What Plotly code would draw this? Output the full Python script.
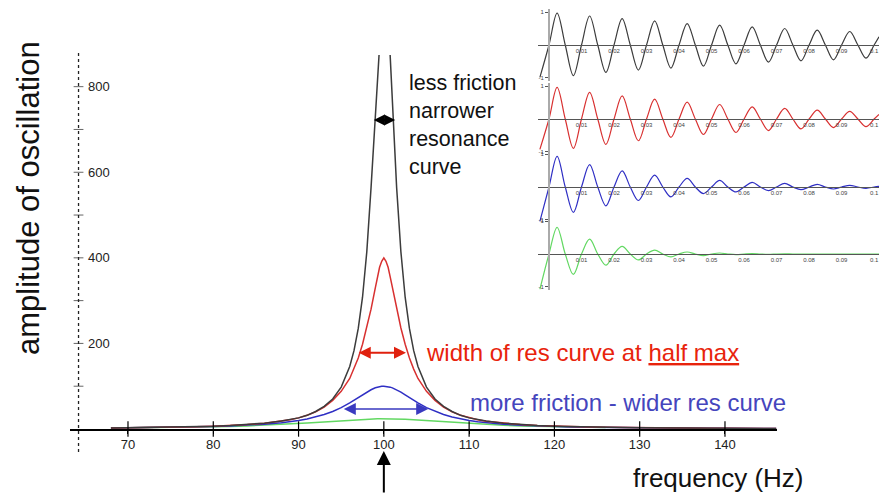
import plotly.graph_objects as go

W, H = 879, 494
FONT = "Liberation Sans, Arial, sans-serif"

# ---------------- main resonance curves ----------------
freq = [68, 70, 72, 74, 76, 78, 80, 82, 84, 86, 88, 89, 90, 91, 92, 93, 94, 95, 96,
        96.5, 97, 97.5, 98, 98.5, 99, 99.25, 99.5, 99.75, 100,
        100.25, 100.5, 100.75, 101, 101.5, 102, 102.5, 103, 103.5, 104,
        105, 106, 107, 108, 109, 110, 111, 112,
        114, 116, 118, 120, 122, 124, 126, 128, 130, 132,
        134, 136, 138, 140, 142, 144, 146]

amp_black = [2.6, 3.0, 3.5, 4.0, 4.7, 5.6, 6.7, 8.3, 10.5, 13.7, 18.5, 22, 26, 32, 41, 53, 70, 98, 146,
             183, 235, 308, 414, 564, 762, 869, 966, 1035, 1060,
             1035, 966, 869, 762, 564, 414, 308, 235, 183, 146,
             98, 70, 53, 41, 32, 26, 22, 18.5,
             13.7, 10.5, 8.3, 6.7, 5.6, 4.7, 4.0, 3.5, 3.0, 2.6,
             2.4, 2.1, 1.9, 1.7, 1.5, 1.4, 1.2]

amp_red = [2.6, 2.9, 3.4, 4.0, 4.6, 5.5, 6.6, 8.2, 10.3, 13.5, 18, 21.5, 26, 32, 40, 51, 67, 88, 118,
           140, 166, 198, 236, 280, 330, 355, 378, 392, 400,
           392, 378, 355, 330, 280, 236, 198, 166, 140, 118,
           88, 67, 51, 40, 32, 26, 21.5, 18,
           13.5, 10.3, 8.2, 6.6, 5.5, 4.6, 4.0, 3.4, 2.9, 2.6,
           2.3, 2.1, 1.9, 1.7, 1.5, 1.4, 1.2]

amp_blue = [2.4, 2.7, 3.1, 3.6, 4.2, 4.9, 5.9, 7.2, 8.9, 11.3, 14.8, 17.1, 20, 23.6, 28.1, 33.8, 41, 50, 61,
            67.1, 73.5, 80, 86.2, 91.7, 96.2, 97.8, 99, 99.8, 100,
            99.8, 99, 97.8, 96.2, 91.7, 86.2, 80, 73.5, 67.1, 61,
            50, 41, 33.8, 28.1, 23.6, 20, 17.1, 14.8,
            11.3, 8.9, 7.2, 5.9, 4.9, 4.2, 3.6, 3.1, 2.7, 2.4,
            2.1, 1.9, 1.7, 1.5, 1.4, 1.3, 1.2]

amp_green = [2.3, 2.6, 3.0, 3.4, 3.9, 4.4, 5.2, 6.1, 7.2, 8.6, 10.4, 11.4, 12.6, 13.8, 15.2, 16.6, 18.1, 19.6, 21,
             21.6, 22.2, 22.7, 23.2, 23.5, 23.8, 23.9, 24, 24, 24,
             24, 24, 23.9, 23.8, 23.5, 23.2, 22.7, 22.2, 21.6, 21,
             19.6, 18.1, 16.6, 15.2, 13.8, 12.6, 11.4, 10.4,
             8.6, 7.2, 6.1, 5.2, 4.4, 3.9, 3.4, None, None, None,
             None, None, None, None, None, None, None]

x_ticks = [70, 80, 90, 100, 110, 120, 130, 140]
y_ticks = [200, 400, 600, 800]
y_minor = [100, 200, 300, 400, 500, 600, 700, 800]

# ---------------- inset damped oscillations ----------------
t_inset = [-0.0028, 0.0, 0.0025, 0.005, 0.0075, 0.01, 0.0125, 0.015, 0.0175, 0.02,
           0.0225, 0.025, 0.0275, 0.03, 0.0325, 0.035, 0.0375, 0.04, 0.0425, 0.045,
           0.0475, 0.05, 0.0525, 0.055, 0.0575, 0.06, 0.0625, 0.065, 0.0675, 0.07,
           0.0725, 0.075, 0.0775, 0.08, 0.0825, 0.085, 0.0875, 0.09, 0.0925, 0.095,
           0.0975, 0.1, 0.1015]
osc_black = [-0.98, 0, 0.97, 0, -0.93, 0, 0.88, 0, -0.83, 0, 0.80, 0, -0.76, 0, 0.73, 0,
             -0.70, 0, 0.65, 0, -0.64, 0, 0.60, 0, -0.57, 0, 0.55, 0, -0.52, 0, 0.50, 0,
             -0.48, 0, 0.45, 0, -0.45, 0, 0.41, 0, -0.40, 0, 0.25]
osc_red = [-0.92, 0, 0.96, 0, -0.89, 0, 0.81, 0, -0.77, 0, 0.70, 0, -0.66, 0, 0.60, 0,
           -0.56, 0, 0.51, 0, -0.47, 0, 0.44, 0, -0.41, 0, 0.37, 0, -0.35, 0, 0.32, 0,
           -0.30, 0, 0.27, 0, -0.26, 0, 0.23, 0, -0.23, 0, 0.14]
osc_blue = [-1.04, 0, 0.93, 0, -0.77, 0, 0.68, 0, -0.57, 0, 0.49, 0, -0.41, 0, 0.36, 0,
            -0.30, 0, 0.26, 0, -0.20, 0, 0.20, 0, -0.15, 0, 0.14, 0, -0.11, 0, 0.11, 0,
            -0.08, 0, 0.08, 0, -0.06, 0, 0.05, 0, -0.04, 0, 0.02]
osc_green = [-1.07, 0, 0.81, 0, -0.62, 0, 0.45, 0, -0.34, 0, 0.23, 0, -0.18, 0, 0.12, 0,
             -0.09, 0, 0.06, 0, -0.05, 0, 0.03, 0, -0.02, 0, 0.015, 0, -0.01, 0, 0.005, 0,
             0, 0, 0, 0, 0, 0, 0, 0, 0, 0, 0]
t_ticks = [0.01, 0.02, 0.03, 0.04, 0.05, 0.06, 0.07, 0.08, 0.09, 0.1]
t_labels = ["0.01", "0.02", "0.03", "0.04", "0.05", "0.06", "0.07", "0.08", "0.09", "0.1"]

C_BLACK = "#3c3c3c"
C_RED = "#d83030"
C_BLUE = "#2f2fc4"
C_GREEN = "#62d862"

fig = go.Figure()

# main curves
for amp, col in [(amp_green, C_GREEN), (amp_blue, C_BLUE), (amp_red, C_RED), (amp_black, C_BLACK)]:
    fig.add_trace(go.Scatter(x=freq, y=amp, mode="lines", line=dict(color=col, width=1.5),
                             hoverinfo="skip", xaxis="x", yaxis="y"))

# x tick marks crossing the axis
fig.add_trace(go.Scatter(x=x_ticks, y=[0] * len(x_ticks), mode="markers", cliponaxis=False,
                         marker=dict(symbol="line-ns", size=11, line=dict(width=1.2, color="black")),
                         hoverinfo="skip", xaxis="x", yaxis="y"))
# y tick marks on dotted axis
fig.add_trace(go.Scatter(x=[64.2] * len(y_minor), y=y_minor, mode="markers", cliponaxis=False,
                         marker=dict(symbol="line-ew", size=7, line=dict(width=1, color="#666")),
                         hoverinfo="skip", xaxis="x", yaxis="y"))

# insets
zero_px = [45, 119, 187, 254]
half_px = 35.6
oscs = [(osc_black, C_BLACK), (osc_red, C_RED), (osc_blue, C_BLUE), (osc_green, C_GREEN)]
layout_axes = {}
for i, ((vals, col), z) in enumerate(zip(oscs, zero_px)):
    k = i + 2
    fig.add_trace(go.Scatter(x=t_inset, y=vals, mode="lines", line=dict(color=col, width=1.2, shape="spline"),
                             hoverinfo="skip", xaxis=f"x{k}", yaxis=f"y{k}"))
    layout_axes[f"xaxis{k}"] = dict(domain=[538 / W, 1.0], range=[-0.00338, 0.1015], anchor="free",
                                    position=1 - z / H, showline=True, linecolor="#555", linewidth=1,
                                    tickvals=t_ticks, ticktext=t_labels, ticks="", showgrid=False,
                                    zeroline=False, automargin=False,
                                    tickfont=dict(size=6, color="#444", family=FONT))
    layout_axes[f"yaxis{k}"] = dict(domain=[1 - (z + half_px) / H, 1 - (z - half_px) / H],
                                    range=[-1.08, 1.08], anchor="free", position=549 / W,
                                    showline=True, linecolor="#aaa", linewidth=2,
                                    tickvals=[-1, 1], ticktext=["-1", "1"], ticks="outside", ticklen=3,
                                    tickcolor="#555", showgrid=False, zeroline=False, automargin=False,
                                    tickfont=dict(size=6, color="#444", family=FONT))

def px(xp):
    return xp / W

def py(yp):
    return 1 - yp / H

annotations = [
    dict(text="amplitude of oscillation", x=px(28), y=py(198), xref="paper", yref="paper",
         xanchor="center", yanchor="middle",
         textangle=-90, showarrow=False, font=dict(size=31, color="#111", family=FONT)),
    dict(text="frequency (Hz)", x=px(631), y=py(478), xref="paper", yref="paper",
         xanchor="left", yanchor="middle",
         showarrow=False, font=dict(size=26, color="#111", family=FONT)),
    dict(text="less friction<br>narrower<br>resonance<br>curve", x=px(407), y=py(124.5),
         xref="paper", yref="paper", xanchor="left", yanchor="middle", align="left",
         showarrow=False, font=dict(size=21.5, color="#111", family=FONT)),
    dict(text="width of res curve at <span style='text-decoration:underline'>half max</span>",
         x=px(424), y=py(352), xref="paper", yref="paper", xanchor="left", yanchor="middle",
         showarrow=False, font=dict(size=24, color="#e8230c", family=FONT)),
    dict(text="more friction - wider res curve", x=px(468), y=py(402), xref="paper", yref="paper",
         xanchor="left", yanchor="middle",
         showarrow=False, font=dict(size=24, color="#4545bd", family=FONT)),
    # double arrows
    dict(text="", x=101.33, y=722, ax=98.64, ay=722, xref="x", yref="y", axref="x", ayref="y",
         showarrow=True, arrowside="end+start", arrowhead=2, arrowsize=1.1, arrowwidth=2, arrowcolor="black"),
    dict(text="", x=102.6, y=178, ax=96.88, ay=178, xref="x", yref="y", axref="x", ayref="y",
         showarrow=True, arrowside="end+start", arrowhead=2, arrowsize=1.2, arrowwidth=2, arrowcolor="#e0200e"),
    dict(text="", x=105.2, y=47, ax=95.13, ay=47, xref="x", yref="y", axref="x", ayref="y",
         showarrow=True, arrowside="end+start", arrowhead=2, arrowsize=1.6, arrowwidth=1.5, arrowcolor="#3a3ac0"),
    # resonance arrow at 100 Hz
    dict(text="", x=100, y=py(451), xref="x", yref="paper", ax=0, ay=48,
         showarrow=True, arrowhead=2, arrowsize=1.4, arrowwidth=2, arrowcolor="black"),
]

shapes = [
    dict(type="line", xref="x", yref="paper", x0=64.2, x1=64.2, y0=py(452), y1=py(53),
         line=dict(color="#222", width=1.3, dash="dot")),
]

fig.update_layout(
    width=W, height=H, autosize=False,
    margin=dict(l=0, r=0, t=0, b=0, autoexpand=False),
    paper_bgcolor="white", plot_bgcolor="rgba(0,0,0,0)",
    showlegend=False,
    font=dict(family=FONT),
    xaxis=dict(domain=[70 / W, 777 / W], range=[63.2, 146.1], anchor="y",
               showline=True, linecolor="black", linewidth=1.5, automargin=False,
               tickvals=x_ticks, ticks="outside", ticklen=3, tickcolor="black",
               showgrid=False, zeroline=False, tickfont=dict(size=13, color="#222", family=FONT)),
    yaxis=dict(domain=[py(429), py(55)], range=[0, 874], anchor="free", position=78.5 / W,
               side="right", tickvals=y_ticks, ticks="outside", ticklen=6, tickcolor="rgba(0,0,0,0)",
               showline=False, showgrid=False, zeroline=False, automargin=False,
               tickfont=dict(size=13, color="#222", family=FONT)),
    annotations=annotations,
    shapes=shapes,
    **layout_axes,
)

fig.write_html("out.html", config={"displayModeBar": False},
               post_script="document.body.style.margin='0';document.body.style.overflow='hidden';")
